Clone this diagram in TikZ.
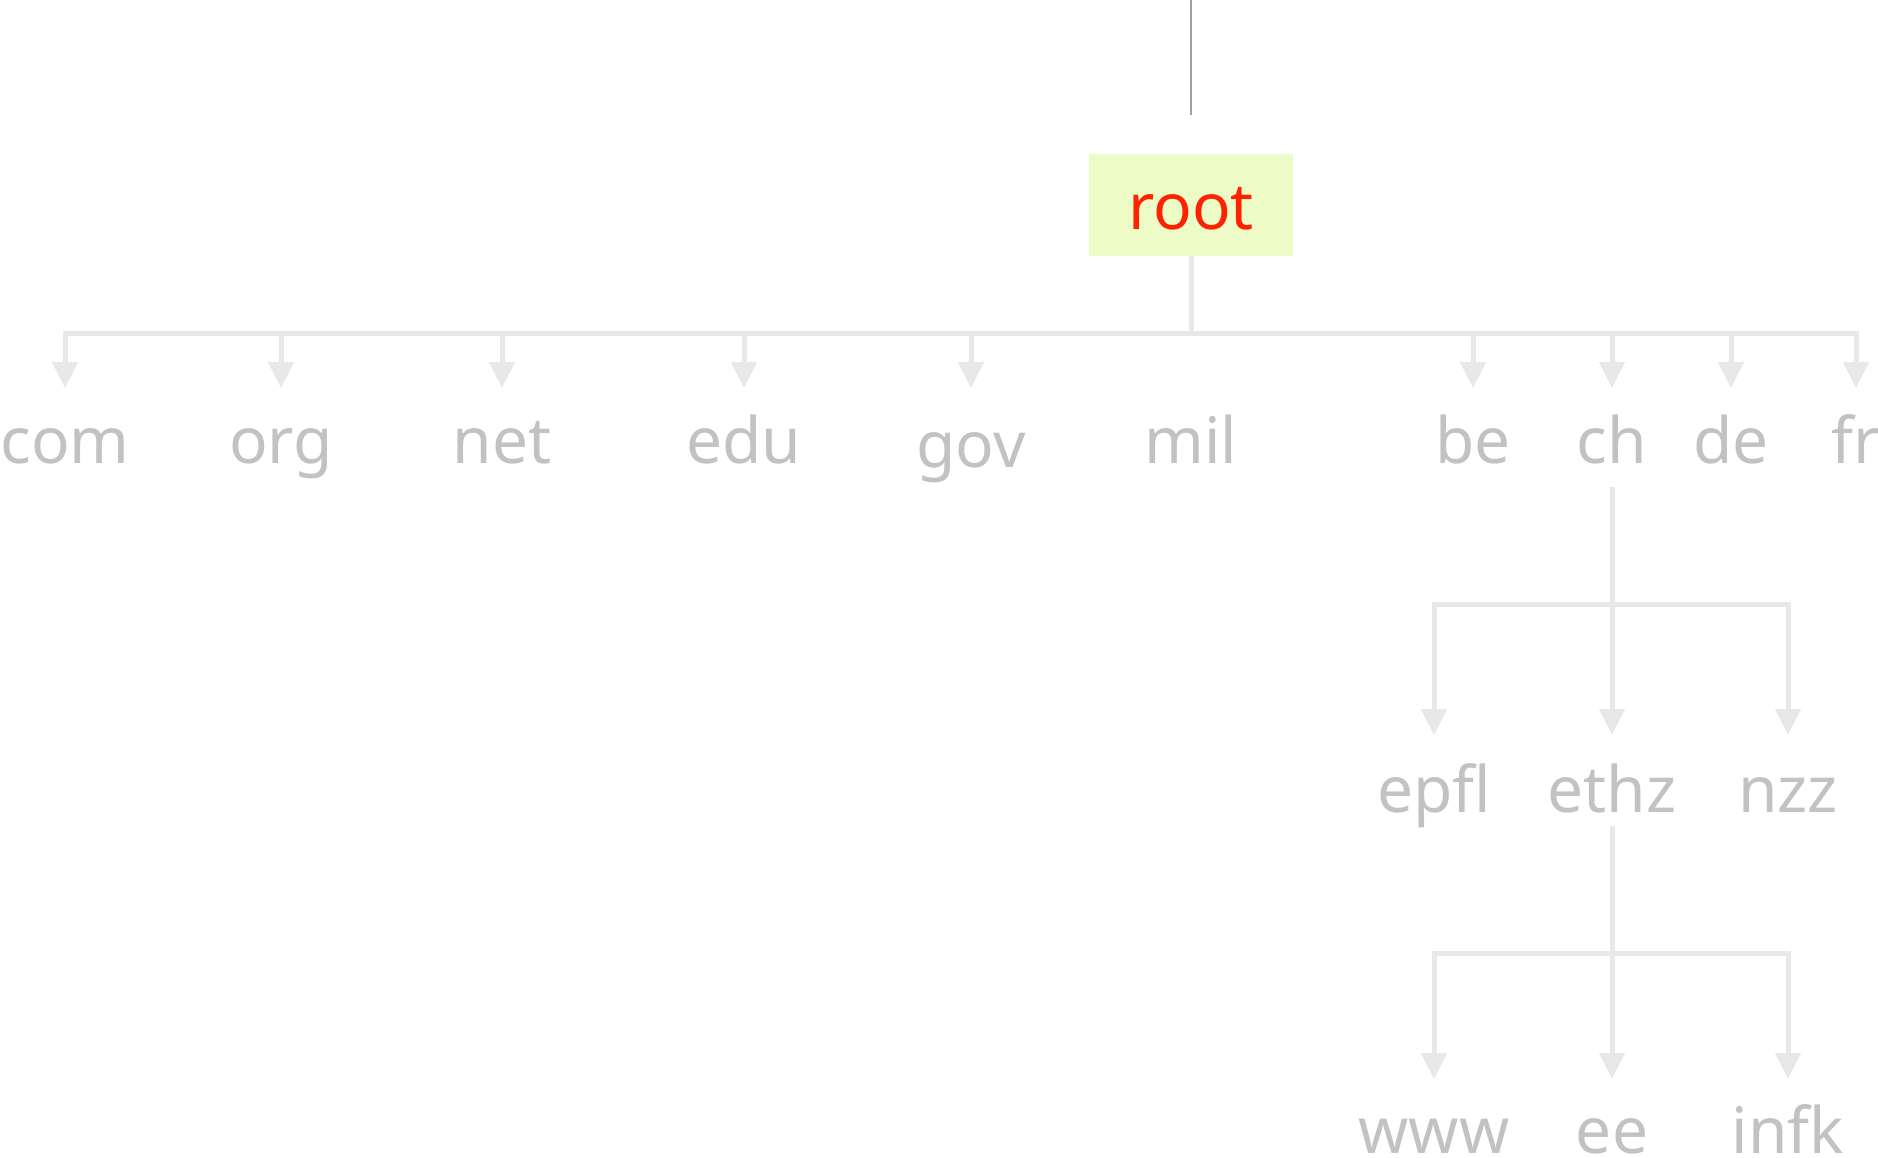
\documentclass[tikz,border=0pt]{standalone}
\usepackage{fontspec}
\setmainfont{Noto Sans}
\usetikzlibrary{arrows.meta}
\definecolor{linegray}{RGB}{232,232,232}
\definecolor{textgray}{RGB}{194,194,194}
\definecolor{topgray}{RGB}{160,160,160}
\definecolor{rootfill}{RGB}{237,251,198}
\definecolor{rootred}{RGB}{255,34,0}
\tikzset{
  lbl/.style={anchor=base, inner sep=0pt, text=textgray, font=\fontsize{64}{76}\selectfont},
  conn/.style={draw=linegray, line width=5pt},
  arr/.style={conn, -{Triangle[width=25pt,length=26pt]}},
  busline/.style={conn, line cap=rect},
  rootbox/.style={fill=rootfill, minimum width=204pt, minimum height=102pt, inner sep=0pt,
    text height=48pt, text depth=0pt, text=rootred, font=\fontsize{64}{76}\selectfont},
}
\begin{document}
\begin{tikzpicture}[x=1pt,y=-1pt]
\useasboundingbox (0,0) rectangle (1878,1157);
% top line
\coordinate (topend) at (1191,0);
\node[rootbox] (root) at (1191,205) {root};
\draw[draw=topgray, line width=2.5pt] (topend) -- (1191,115) coordinate (topfoot);
% first level labels
\node[lbl] (com) at (65,463) {com};
\node[lbl] (org) at (281,463) {org};
\node[lbl] (net) at (502,463) {net};
\node[lbl] (edu) at (744,463) {edu};
\node[lbl] (gov) at (971,467) {gov};
\node[lbl] (mil) at (1191,463) {mil};
\node[lbl] (be) at (1473,463) {be};
\node[lbl] (ch) at (1612,463) {ch};
\node[lbl] (de) at (1731,463) {de};
\node[lbl] (fr) at (1856,463) {fr};
\coordinate (bus) at (1191,333);
\draw[conn] (root.south) -- (bus);
\draw[busline] (com.base |- bus) -- (fr.base |- bus);
\foreach \n in {com,org,net,edu,be,ch,de,fr}
  \draw[arr] (\n.base |- bus) -- (\n.base |- 0,388);
\draw[arr] (gov.base |- bus) -- (gov.base |- 0,388);
% second level
\node[lbl] (epfl) at (1434,812) {epfl};
\node[lbl] (ethz) at (1612,812) {ethz};
\node[lbl] (nzz) at (1788,812) {nzz};
\coordinate (chbus) at (1612,604);
\draw[conn] ([yshift=-24pt]ch.base) -- (chbus);
\draw[busline] (epfl.base |- chbus) -- (nzz.base |- chbus);
\foreach \n in {epfl,ethz,nzz}
  \draw[arr] (\n.base |- chbus) -- (\n.base |- 0,735);
% third level
\node[lbl] (www) at (1434,1153) {www};
\node[lbl] (ee) at (1612,1153) {ee};
\node[lbl] (infk) at (1788,1153) {infk};
\coordinate (ethzbus) at (1612,953);
\draw[conn] ([yshift=-14pt]ethz.base) -- (ethzbus);
\draw[busline] (www.base |- ethzbus) -- (infk.base |- ethzbus);
\foreach \n in {www,ee,infk}
  \draw[arr] (\n.base |- ethzbus) -- (\n.base |- 0,1079);
\end{tikzpicture}
\end{document}
